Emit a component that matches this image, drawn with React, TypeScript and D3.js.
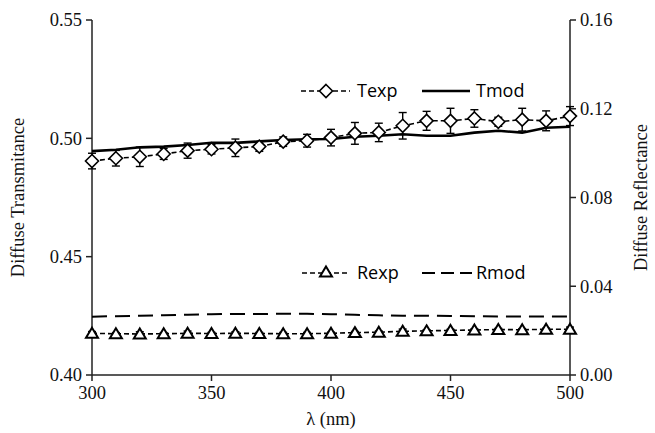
import React from "react";
import * as d3 from "d3";

const wavelengths = [300, 310, 320, 330, 340, 350, 360, 370, 380, 390, 400, 410, 420, 430, 440, 450, 460, 470, 480, 490, 500];
const texp = [0.4904, 0.4916, 0.4922, 0.4934, 0.4948, 0.4954, 0.496, 0.4965, 0.4986, 0.499, 0.5003, 0.5021, 0.5025, 0.5053, 0.5074, 0.5074, 0.5084, 0.507, 0.5079, 0.5074, 0.5094];
const texpErr = [0.0033, 0.0033, 0.0041, 0.0023, 0.0032, 0.002, 0.0037, 0.002, 0.002, 0.0027, 0.0035, 0.0046, 0.0039, 0.0056, 0.004, 0.0053, 0.0037, 0.0019, 0.0048, 0.0042, 0.004];
const tmod = [0.4946, 0.4952, 0.4962, 0.4965, 0.4972, 0.4981, 0.4981, 0.4987, 0.4993, 0.4996, 0.4997, 0.5007, 0.5011, 0.5017, 0.5011, 0.5011, 0.5024, 0.5032, 0.5024, 0.5045, 0.5049];
const rexp = [0.0188, 0.0186, 0.0185, 0.0186, 0.0188, 0.0187, 0.0188, 0.0187, 0.0186, 0.0186, 0.0188, 0.0191, 0.0193, 0.0197, 0.0199, 0.0201, 0.0203, 0.0205, 0.0204, 0.0206, 0.0206];
const rexpErr = [0.0008, 0.0005, 0.001, 0.0005, 0.001, 0.0005, 0.0007, 0.0005, 0.0006, 0.0006, 0.0005, 0.0005, 0.0005, 0.001, 0.0005, 0.0005, 0.0005, 0.0005, 0.0005, 0.0005, 0.001];
const rmod = [0.0263, 0.0265, 0.0267, 0.0269, 0.0272, 0.0274, 0.0275, 0.0275, 0.0276, 0.0276, 0.0274, 0.0271, 0.0269, 0.0267, 0.0267, 0.0266, 0.0265, 0.0264, 0.0264, 0.0264, 0.0264];

const xTicks = [300, 350, 400, 450, 500];
const yLeftTicks = [0.4, 0.45, 0.5, 0.55];
const yRightTicks = [0, 0.04, 0.08, 0.12, 0.16];

const W = 655;
const H = 433;
const L = 92;
const R = 570;
const T = 20;
const B = 375;

export default function App() {
  const x = d3.scaleLinear().domain([300, 500]).range([L, R]);
  const yL = d3.scaleLinear().domain([0.4, 0.55]).range([B, T]);
  const yR = d3.scaleLinear().domain([0, 0.16]).range([B, T]);

  const lineT = d3.line<number>().x((_, i) => x(wavelengths[i])).y((d) => yL(d));
  const lineR = d3.line<number>().x((_, i) => x(wavelengths[i])).y((d) => yR(d));

  const serif = "Times New Roman, Liberation Serif, Times, serif";
  const sans = "Open Sans, Liberation Sans, sans-serif";
  const axisColor = "#222";

  const diamond = (cx: number, cy: number, k: string | number) => (
    <path key={k} d={`M${cx},${cy - 6.5}L${cx + 6.5},${cy}L${cx},${cy + 6.5}L${cx - 6.5},${cy}Z`} fill="#fff" stroke="#000" strokeWidth={1.6} />
  );
  const triangle = (cx: number, cy: number, k: string | number) => (
    <path key={k} d={`M${cx},${cy - 5.5}L${cx + 6},${cy + 4.5}L${cx - 6},${cy + 4.5}Z`} fill="#fff" stroke="#000" strokeWidth={2} />
  );
  const errBar = (cx: number, y1: number, y2: number, k: string | number) => (
    <g key={k} stroke="#000" strokeWidth={1.4}>
      <line x1={cx} x2={cx} y1={y1} y2={y2} />
      <line x1={cx - 4} x2={cx + 4} y1={y1} y2={y1} />
      <line x1={cx - 4} x2={cx + 4} y1={y2} y2={y2} />
    </g>
  );

  return (
    <svg width={W} height={H} style={{ position: "absolute", left: 0, top: 0, background: "#fff" }}>
      <g stroke={axisColor} strokeWidth={1.5} fill="none">
        <line x1={L} x2={L} y1={T} y2={B} />
        <line x1={R} x2={R} y1={T} y2={B} />
        <line x1={L} x2={R} y1={B} y2={B} />
        {yLeftTicks.map((t) => (
          <line key={"yl" + t} x1={L - 6} x2={L} y1={yL(t)} y2={yL(t)} />
        ))}
        {yRightTicks.map((t) => (
          <line key={"yr" + t} x1={R} x2={R + 6} y1={yR(t)} y2={yR(t)} />
        ))}
        {xTicks.map((t) => (
          <line key={"xt" + t} x1={x(t)} x2={x(t)} y1={B} y2={B + 6} />
        ))}
      </g>
      <g style={{ fontFamily: serif }} fontSize={18.5} fill="#111">
        {yLeftTicks.map((t) => (
          <text key={"yll" + t} x={L - 10} y={yL(t)} dy="0.35em" textAnchor="end">
            {d3.format(".2f")(t)}
          </text>
        ))}
        {yRightTicks.map((t) => (
          <text key={"yrl" + t} x={R + 10} y={yR(t)} dy="0.35em" textAnchor="start">
            {d3.format(".2f")(t)}
          </text>
        ))}
        {xTicks.map((t) => (
          <text key={"xtl" + t} x={x(t)} y={B + 24} textAnchor="middle">
            {t}
          </text>
        ))}
        <text x={(L + R) / 2} y={425} textAnchor="middle">λ (nm)</text>
        <text transform={`translate(24,${(T + B) / 2}) rotate(-90)`} textAnchor="middle">Diffuse Transmitance</text>
        <text transform={`translate(634,${(T + B) / 2}) rotate(-90)`} textAnchor="middle" dy="0.7em">Diffuse Reflectance</text>
      </g>

      <path d={lineR(rmod) || ""} fill="none" stroke="#000" strokeWidth={2} strokeDasharray="15,8" />
      <path d={lineT(tmod) || ""} fill="none" stroke="#000" strokeWidth={2.6} />
      {wavelengths.map((w, i) => errBar(x(w), yL(texp[i] - texpErr[i]), yL(texp[i] + texpErr[i]), "te" + i))}
      <path d={lineT(texp) || ""} fill="none" stroke="#000" strokeWidth={1.6} strokeDasharray="5,3" />
      {wavelengths.map((w, i) => diamond(x(w), yL(texp[i]), "td" + i))}
      {wavelengths.map((w, i) => errBar(x(w), yR(rexp[i] - rexpErr[i]), yR(rexp[i] + rexpErr[i]), "re" + i))}
      <path d={lineR(rexp) || ""} fill="none" stroke="#000" strokeWidth={1.6} strokeDasharray="5,3" />
      {wavelengths.map((w, i) => triangle(x(w), yR(rexp[i]), "rt" + i))}

      <g style={{ fontFamily: sans }} fontSize={18} fill="#000">
        <line x1={301} x2={350} y1={91} y2={91} stroke="#000" strokeWidth={1.6} strokeDasharray="5,3" />
        {diamond(326, 91, "lg1")}
        <text x={357} y={91} dy="0.35em">Texp</text>
        <line x1={422} x2={470} y1={91} y2={91} stroke="#000" strokeWidth={2.6} />
        <text x={476} y={91} dy="0.35em">Tmod</text>

        <line x1={302} x2={347} y1={273} y2={273} stroke="#000" strokeWidth={1.6} strokeDasharray="5,3" />
        {triangle(326, 272, "lg2")}
        <text x={357} y={273} dy="0.35em">Rexp</text>
        <line x1={422} x2={472} y1={273} y2={273} stroke="#000" strokeWidth={2} strokeDasharray="13,6" />
        <text x={476} y={273} dy="0.35em">Rmod</text>
      </g>
    </svg>
  );
}
